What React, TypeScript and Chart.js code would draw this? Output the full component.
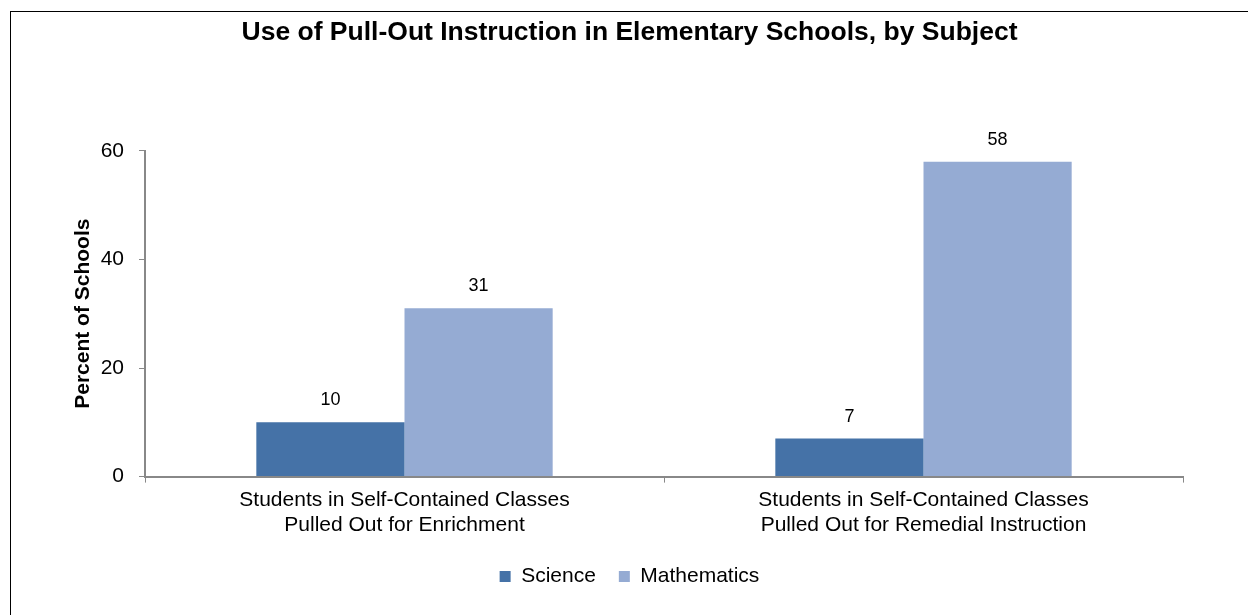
import React, { useEffect, useRef } from "react";
import { Chart, registerables } from "chart.js";

Chart.register(...registerables);

const categories: string[][] = [
  ["Students in Self-Contained Classes", "Pulled Out for Enrichment"],
  ["Students in Self-Contained Classes", "Pulled Out for Remedial Instruction"],
];
const scienceValues = [10, 7];
const mathValues = [31, 58];
const seriesNames = ["Science", "Mathematics"];
const titleText = "Use of Pull-Out Instruction in Elementary Schools, by Subject";
const yTitle = "Percent of Schools";

const FONT = "'Liberation Sans', Arial, sans-serif";

const valueLabels = {
  id: "valueLabels",
  afterDatasetsDraw(chart: any) {
    const ctx = chart.ctx;
    ctx.save();
    ctx.font = `18px ${FONT}`;
    ctx.fillStyle = "#000";
    ctx.textAlign = "center";
    ctx.textBaseline = "middle";
    chart.data.datasets.forEach((ds: any, i: number) => {
      const meta = chart.getDatasetMeta(i);
      meta.data.forEach((bar: any, j: number) => {
        ctx.fillText(String(ds.data[j]), bar.x, bar.y - 22);
      });
    });
    ctx.restore();
  },
};

export default function App() {
  const ref = useRef<HTMLCanvasElement>(null);
  useEffect(() => {
    if (!ref.current) return;
    const chart = new Chart(ref.current, {
      type: "bar",
      data: {
        labels: categories,
        datasets: [
          { label: seriesNames[0], data: scienceValues, backgroundColor: "#4572A7" },
          { label: seriesNames[1], data: mathValues, backgroundColor: "#95ABD3" },
        ],
      },
      plugins: [valueLabels],
      options: {
        animation: false,
        responsive: false,
        maintainAspectRatio: false,
        layout: { padding: { left: 0, right: 0, top: 0, bottom: 18 } },
        datasets: { bar: { categoryPercentage: 0.571, barPercentage: 1 } },
        plugins: {
          title: {
            display: true,
            text: titleText,
            color: "#000",
            font: { family: FONT, size: 26.5, weight: "bold" },
            padding: { top: 5, bottom: 102 },
          },
          legend: {
            position: "bottom",
            labels: {
              color: "#000",
              font: { family: FONT, size: 21 },
              boxWidth: 11,
              boxHeight: 11,
              padding: 23,
            },
          },
          tooltip: { enabled: false },
        },
        scales: {
          x: {
            grid: {
              display: true,
              drawOnChartArea: false,
              offset: true,
              tickLength: 6,
              color: "#888",
            },
            border: { display: true, color: "#888", width: 2 },
            ticks: {
              color: "#000",
              font: { family: FONT, size: 21, lineHeight: 1.2 },
              padding: 5,
              maxRotation: 0,
            },
          },
          y: {
            min: 0,
            max: 60,
            afterFit: (s: any) => {
              s.width = 134;
            },
            ticks: {
              stepSize: 20,
              color: "#000",
              font: { family: FONT, size: 21 },
              padding: 15,
            },
            grid: {
              display: true,
              drawOnChartArea: false,
              tickLength: 6,
              color: "#888",
            },
            border: { display: true, color: "#888", width: 2 },
            title: {
              display: true,
              text: yTitle,
              color: "#000",
              font: { family: FONT, size: 21, weight: "bold" },
              padding: { top: 60, bottom: 0 },
            },
          },
          yRight: {
            type: "linear",
            position: "right",
            display: true,
            grid: { display: false },
            ticks: { display: false },
            border: { display: false },
            afterFit: (s: any) => {
              s.width = 65;
            },
          },
        },
      },
    });
    return () => chart.destroy();
  }, []);
  return (
    <div
      style={{
        position: "absolute",
        left: 10,
        top: 11,
        width: 1237,
        height: 603,
        border: "1px solid #000",
        background: "#fff",
      }}
    >
      <canvas ref={ref} width={1237} height={603} style={{ display: "block" }} />
    </div>
  );
}
